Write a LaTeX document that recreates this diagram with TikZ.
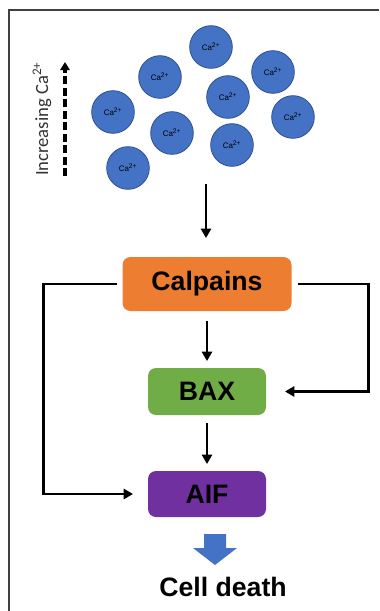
\documentclass[tikz,border=0pt]{standalone}
\usepackage{fontspec}
\usepackage[dvipsnames]{xcolor}
\usepackage{tikz}
\usetikzlibrary{arrows.meta}
\setmainfont{Liberation Sans}
\newfontfamily\calibrifont{Carlito}

\definecolor{calporange}{HTML}{ED7D31}
\definecolor{baxgreen}{HTML}{70AD47}
\definecolor{aifpurple}{HTML}{7030A0}
\definecolor{ionblue}{HTML}{4472C4}
\definecolor{ionedge}{HTML}{2F528F}

\begin{document}
\begin{tikzpicture}[x=0.75pt, y=-0.75pt,
		ion/.style={circle, draw=ionedge, line width=0.6pt, fill=ionblue, minimum size=32pt, inner sep=0pt, font=\fontsize{6}{7}\selectfont},
		stagebox/.style={rounded corners=6pt, inner sep=0pt, font=\bfseries\fontsize{20}{24}\selectfont},
		conn/.style={line width=2.2pt, -{Triangle[length=7pt,width=7.5pt]}},
		frameline/.style={draw=black!75, line width=1.2pt}]
			
			\useasboundingbox (0,0) rectangle (379,611);
			\draw[frameline] (9,611) -- (9,10) -- (379,10);
			
			\foreach \cx/\cy [count=\i] in {211/47, 160/77, 273/72, 228/97, 113/112, 293/117, 172/133, 232/145, 128/168}
				\node[ion] (ca\i) at (\cx,\cy) {Ca\textsuperscript{2+}};
			
			\node[rotate=90, text=black!80, font=\calibrifont\fontsize{14}{16}\selectfont] (incr) at (42,119) {Increasing Ca\textsuperscript{2+}};
			\coordinate (risebot) at (65,176);
			\coordinate (risetop) at (65,62);
			\draw[line width=2.4pt, dash pattern=on 6pt off 2.6pt, -{Triangle[length=6pt,width=7pt]}] (risebot) -- (risetop);
			
			\node[stagebox, fill=calporange, minimum width=126.75pt, minimum height=40.5pt] (calp) at (207,284) {Calpains};
			\node[stagebox, fill=baxgreen, minimum width=88.5pt, minimum height=35.25pt] (bax) at (207,391.5) {BAX};
			\node[stagebox, fill=aifpurple, minimum width=88.5pt, minimum height=34.5pt] (aif) at (207,494) {AIF};
			\node[font=\bfseries\fontsize{20}{24}\selectfont] (death) at (223,587) {Cell death};
			
			\coordinate (caout) at (206,184);
			\draw[conn, shorten >=14pt] (caout) -- (caout |- calp.north);
			\draw[conn, shorten <=7pt, shorten >=5pt] (calp) -- (bax);
			\draw[conn, shorten <=6pt, shorten >=5pt] (bax) -- (aif);
			\draw[conn, shorten <=5pt, shorten >=14pt] (calp.east) -- ++(77,0) |- (bax.east);
			\draw[conn, shorten <=4pt, shorten >=11pt] (calp.west) -- ++(-79,0) |- (aif.west);
			
			\fill[ionblue] (204,534) -- (226,534) -- (226,548) -- (237,548) -- (215,565) -- (193,548) -- (204,548) -- cycle;
			
		\end{tikzpicture}
\end{document}
